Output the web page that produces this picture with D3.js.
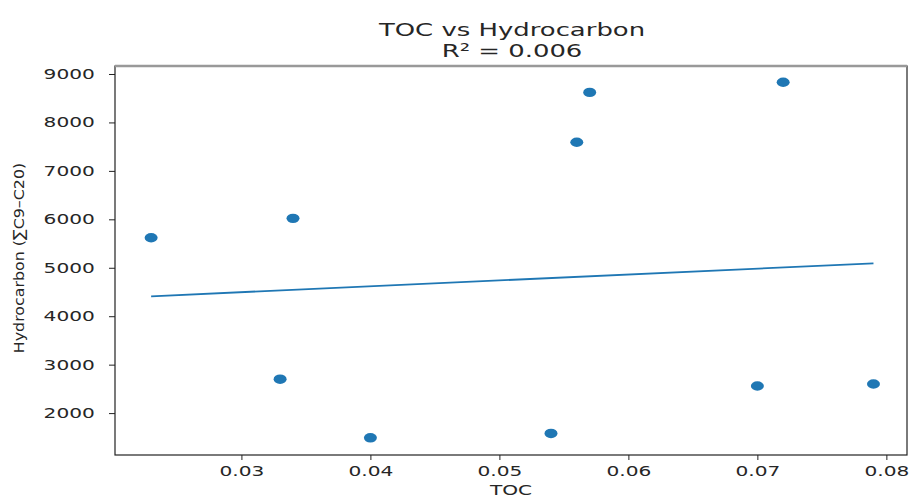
<!DOCTYPE html>
<meta charset="utf-8">
<script src="https://d3js.org/d3.v7.min.js"></script>
<style>
  body { margin: 0; background: white; }
  text { font-family: "DejaVu Sans", sans-serif; fill: #262626; }
  .axis .domain { display: none; }
  .axis .tick line { stroke: #222; }
</style>
<div id="chart"></div>
<script>

// data
const toc = [0.023, 0.034, 0.033, 0.040, 0.054, 0.056, 0.057, 0.070, 0.072, 0.079];
const hydrocarbon = [5620, 6020, 2700, 1490, 1580, 7590, 8620, 2560, 8830, 2600];
const xTicks = [0.03, 0.04, 0.05, 0.06, 0.07, 0.08];
const yTicks = [2000, 3000, 4000, 5000, 6000, 7000, 8000, 9000];

const W = 910, H = 498;
const sx = 1.44; // the picture is stretched sideways, text too
const plot = {left: 115, right: 907, top: 66, bottom: 455};

const svg = d3.select("#chart").append("svg")
  .attr("width", W).attr("height", H);

const x = d3.scaleLinear().domain([0.0202, 0.0816]).range([plot.left, plot.right]);
const y = d3.scaleLinear().domain([1135, 9165]).range([plot.bottom, plot.top]);

// frame
svg.append("rect")
  .attr("x", plot.left).attr("y", plot.top)
  .attr("width", plot.right - plot.left).attr("height", plot.bottom - plot.top)
  .attr("fill", "none").attr("stroke", "#222").attr("stroke-width", 1.2);
svg.append("line")
  .attr("x1", plot.left).attr("x2", plot.right)
  .attr("y1", plot.top).attr("y2", plot.top)
  .attr("stroke", "#999").attr("stroke-width", 2.5);

// axes
const gx = svg.append("g").attr("class", "axis")
  .attr("transform", `translate(0,${plot.bottom})`)
  .call(d3.axisBottom(x).tickValues(xTicks).tickSize(5).tickPadding(6).tickFormat(d3.format(".2f")));
gx.selectAll("text").attr("font-size", 14).attr("font-family", "DejaVu Sans")
  .attr("transform", `scale(${sx},1)`);

const gy = svg.append("g").attr("class", "axis")
  .attr("transform", `translate(${plot.left},0)`)
  .call(d3.axisLeft(y).tickValues(yTicks).tickSize(6).tickPadding(8).tickFormat(d3.format("d")));
gy.selectAll("text").attr("font-size", 14).attr("font-family", "DejaVu Sans")
  .attr("transform", `scale(${sx},1)`);

// least squares fit
const pts = toc.map((d, i) => ({x: d, y: hydrocarbon[i]}));
const mx = d3.mean(toc), my = d3.mean(hydrocarbon);
const sxy = d3.sum(pts, p => (p.x - mx) * (p.y - my));
const sxx = d3.sum(pts, p => (p.x - mx) ** 2);
const syy = d3.sum(pts, p => (p.y - my) ** 2);
const slope = sxy / sxx, icpt = my - slope * mx;
const r2 = sxy * sxy / (sxx * syy);

const ext = d3.extent(toc);
svg.append("path")
  .datum(ext.map(v => [v, icpt + slope * v]))
  .attr("d", d3.line().x(d => x(d[0])).y(d => y(d[1])))
  .attr("fill", "none").attr("stroke", "#1f77b4").attr("stroke-width", 1.8);

// points
svg.append("g").selectAll("ellipse")
  .data(pts)
  .join("ellipse")
    .attr("cx", d => x(d.x))
    .attr("cy", d => y(d.y))
    .attr("rx", 6.5).attr("ry", 4.7)
    .attr("fill", "#1f77b4");

// titles
svg.append("text")
  .attr("transform", `translate(512,36) scale(${sx},1)`)
  .attr("text-anchor", "middle").attr("font-size", 18)
  .text("TOC vs Hydrocarbon");
svg.append("text")
  .attr("transform", `translate(512,57) scale(${sx},1)`)
  .attr("text-anchor", "middle").attr("font-size", 18)
  .text("R² = " + d3.format(".3f")(r2));

svg.append("text")
  .attr("transform", `translate(511,495) scale(${sx},1)`)
  .attr("text-anchor", "middle").attr("font-size", 14)
  .text("TOC");

svg.append("text")
  .attr("transform", `translate(24,258) rotate(-90) scale(1.22,1.15)`)
  .attr("text-anchor", "middle").attr("font-size", 13)
  .text("Hydrocarbon (∑C9–C20)");

</script>
